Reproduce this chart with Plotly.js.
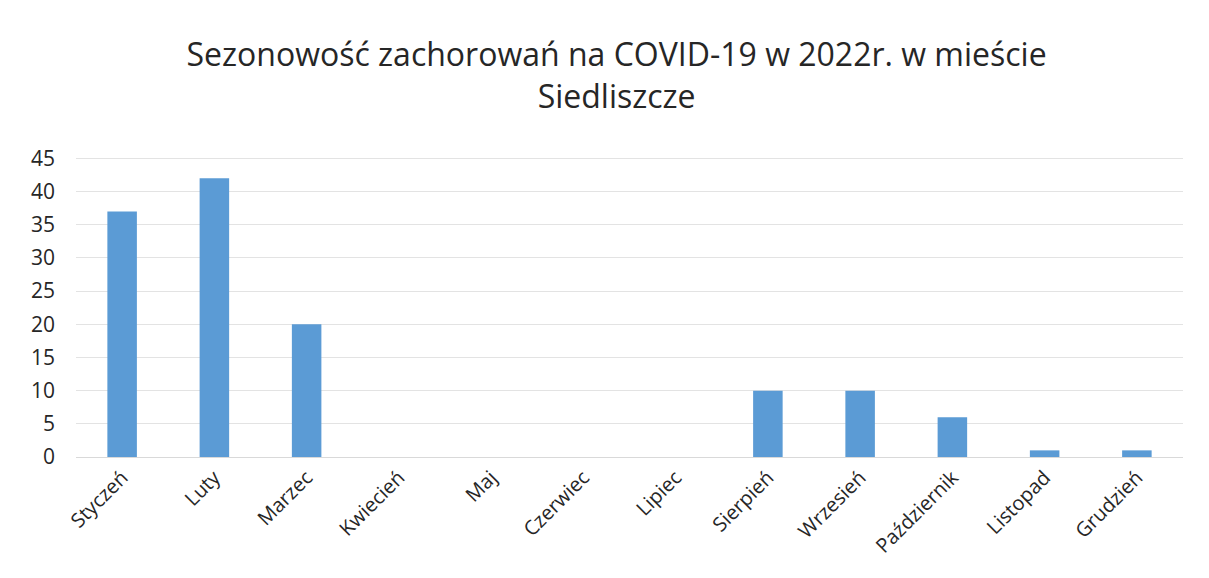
<!DOCTYPE html>
<html>
<head>
<meta charset="utf-8">
<script src="https://cdn.plot.ly/plotly-3.0.1.min.js"></script>
<style>html,body{margin:0;padding:0;background:#fff;}#chart{width:1209px;height:578px;}</style>
</head>
<body>
<div id="chart"></div>
<script>
const months = ["Styczeń","Luty","Marzec","Kwiecień","Maj","Czerwiec","Lipiec","Sierpień","Wrzesień","Październik","Listopad","Grudzień"];
const cases = [37, 42, 20, 0, 0, 0, 0, 10, 10, 6, 1, 1];
const yTicks = [0,5,10,15,20,25,30,35,40,45];
const chartTitle = "Sezonowość zachorowań na COVID-19 w 2022r. w mieście<br>Siedliszcze";

Plotly.newPlot("chart", [{
  type: "bar",
  x: months,
  y: cases,
  marker: {color: "#5b9bd5"},
  hoverinfo: "x+y"
}], {
  width: 1209, height: 578,
  margin: {l: 76, r: 26, t: 155, b: 121},
  paper_bgcolor: "#ffffff",
  plot_bgcolor: "#ffffff",
  bargap: 0.68,
  font: {family: "Open Sans, Noto Sans, sans-serif", color: "#262626"},
  title: {text: chartTitle, x: 0.51, xanchor: "center", y: 0.885, yanchor: "top",
          font: {size: 32, color: "#262626", family: "Open Sans, sans-serif"}},
  xaxis: {tickangle: -45, tickfont: {size: 20, color: "#262626"}, showgrid: false,
          showline: true, linecolor: "#d9d9d9", ticks: "", automargin: false},
  yaxis: {range: [0, 45.5], tickvals: yTicks, ticktext: yTicks.map(String),
          tickfont: {size: 21, color: "#262626"}, gridcolor: "#e3e3e3", zeroline: false,
          showline: false, ticks: "", ticklabelstandoff: 20, automargin: false}
}, {displayModeBar: false, staticPlot: true});
</script>
</body>
</html>
